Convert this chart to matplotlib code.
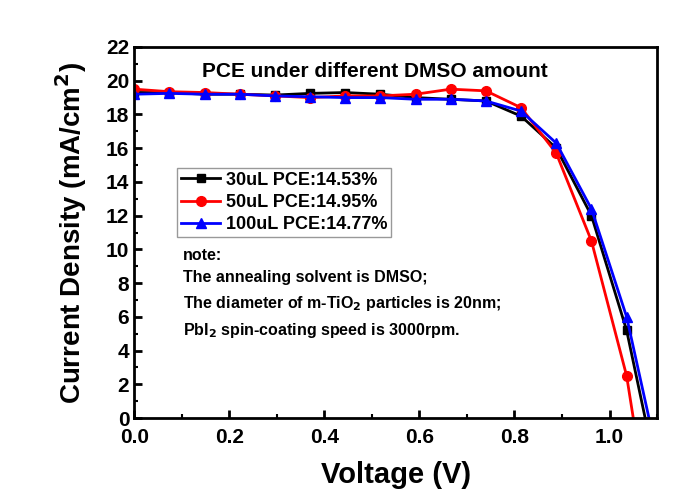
import numpy as np
import matplotlib
matplotlib.use('Agg')
import matplotlib.pyplot as plt
from matplotlib.ticker import MultipleLocator

plt.rcParams['font.family'] = ['Liberation Sans', 'DejaVu Sans']
plt.rcParams['font.weight'] = 'bold'
plt.rcParams['mathtext.default'] = 'bf'

# voltage points (V)
v = [0.0, 0.074, 0.148, 0.222, 0.296, 0.37, 0.444, 0.518, 0.592, 0.666, 0.74, 0.814, 0.888, 0.962, 1.036]

j_30 = [19.3, 19.3, 19.2, 19.2, 19.15, 19.25, 19.3, 19.2, 19.0, 18.9, 18.8, 17.9, 16.0, 12.0, 5.2]
j_50 = [19.5, 19.35, 19.3, 19.2, 19.1, 19.0, 19.1, 19.1, 19.2, 19.5, 19.4, 18.4, 15.7, 10.5, 2.5]
j_100 = [19.2, 19.25, 19.2, 19.2, 19.1, 19.05, 19.0, 19.0, 18.9, 18.9, 18.8, 18.2, 16.3, 12.4, 6.0]

# end points where curves hit J = 0
voc_30, voc_50, voc_100 = 1.075, 1.05, 1.083

labels = ['30uL PCE:14.53%', '50uL PCE:14.95%', '100uL PCE:14.77%']

fig = plt.figure(figsize=(6.88, 5.0), dpi=100)
ax = fig.add_axes([0.195, 0.164, 0.76, 0.742])

n = len(v)
ax.plot(v + [voc_30], j_30 + [0], color='black', marker='s', markersize=6,
        lw=2, markevery=list(range(n)), label=labels[0])
ax.plot(v + [voc_50], j_50 + [0], color='red', marker='o', markersize=7,
        lw=2, markevery=list(range(n)), label=labels[1])
ax.plot(v + [voc_100], j_100 + [0], color='blue', marker='^', markersize=7,
        lw=2, markevery=list(range(n)), label=labels[2])

ax.set_xlim(0, 1.1)
ax.set_ylim(0, 22)
ax.xaxis.set_major_locator(MultipleLocator(0.2))
ax.xaxis.set_minor_locator(MultipleLocator(0.1))
ax.yaxis.set_major_locator(MultipleLocator(2))
ax.yaxis.set_minor_locator(MultipleLocator(1))
ax.tick_params(direction='in', which='major', length=6, width=2, labelsize=15)
ax.tick_params(direction='in', which='minor', length=3, width=1.5)
ax.tick_params(axis='x', which='major', pad=7)
for s in ax.spines.values():
    s.set_linewidth(2)

ax.set_xlabel('Voltage (V)', fontsize=21, fontweight='bold', labelpad=10)
ax.set_ylabel(r'Current Density (mA/cm$^{\mathbf{2}}$)', fontsize=20, fontweight='bold', labelpad=12)

ax.text(0.46, 0.933, 'PCE under different DMSO amount', transform=ax.transAxes,
        ha='center', va='center', fontsize=15, fontweight='bold')

leg = ax.legend(loc='upper left', bbox_to_anchor=(0.082, 0.674), fontsize=13,
                frameon=True, fancybox=False, edgecolor='gray', handlelength=2.2,
                handletextpad=0.3, borderpad=0.2, labelspacing=0.3, borderaxespad=0)
leg.get_frame().set_linewidth(1)
for t in leg.get_texts():
    t.set_fontweight('bold')

note = ('note:\n'
        'The annealing solvent is DMSO;\n'
        'The diameter of m-TiO$_2$ particles is 20nm;\n'
        'PbI$_2$ spin-coating speed is 3000rpm.')
ax.text(0.094, 0.458, note, transform=ax.transAxes, ha='left', va='top',
        fontsize=11.5, fontweight='bold', linespacing=1.6)

fig.savefig('out.png', dpi=100)
